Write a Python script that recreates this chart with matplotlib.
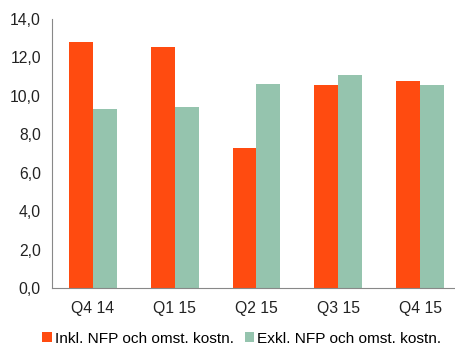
import matplotlib.pyplot as plt
import numpy as np

plt.rcParams['font.family'] = ['Liberation Sans', 'DejaVu Sans']

quarters = ['Q4 14', 'Q1 15', 'Q2 15', 'Q3 15', 'Q4 15']
inkl = [12.8, 12.55, 7.28, 10.55, 10.75]
exkl = [9.32, 9.41, 10.64, 11.07, 10.55]

fig = plt.figure(figsize=(4.56, 3.49), dpi=100)
ax = fig.add_axes([52 / 456, 61 / 349, 409 / 456, 269 / 349])

x = np.arange(len(quarters))
w = 0.293
ax.bar(x - w / 2, inkl, w, color='#FF4B10', label='Inkl. NFP och omst. kostn.')
ax.bar(x + w / 2, exkl, w, color='#95C4AE', label='Exkl. NFP och omst. kostn.')

ax.set_xlim(-0.5, 4.5)
ax.set_ylim(0, 14)
ax.set_yticks(np.arange(0, 15, 2))
ax.set_yticklabels([f'{v:.1f}'.replace('.', ',') for v in np.arange(0, 15, 2)])
ax.set_xticks(x)
ax.set_xticklabels(quarters)
ax.tick_params(length=0, labelsize=11.3, colors='#222222')
ax.tick_params(axis='y', pad=8)
ax.tick_params(axis='x', pad=9)
for s in ['top', 'right']:
    ax.spines[s].set_visible(False)
for s in ['left', 'bottom']:
    ax.spines[s].set_color('#888888')

fig.legend(loc='lower center', bbox_to_anchor=(0.53, -0.03), ncol=2, frameon=False,
           fontsize=11.1, handlelength=0.6, handleheight=0.6, handletextpad=0.2,
           columnspacing=0.7)

fig.savefig('out.png', dpi=100)
